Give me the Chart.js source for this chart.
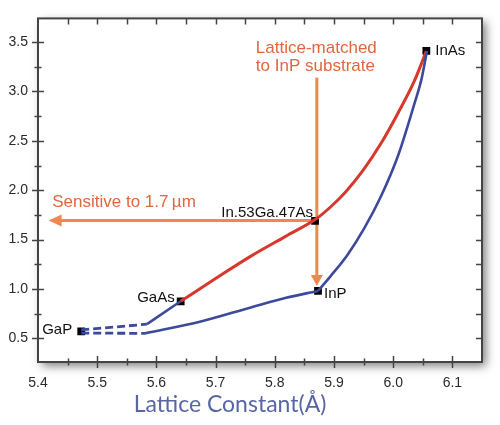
<!DOCTYPE html>
<html>
<head>
<meta charset="utf-8">
<script src="https://cdn.jsdelivr.net/npm/chart.js@4.4.1/dist/chart.umd.min.js"></script>
<style>
  html, body { margin: 0; padding: 0; background: #fff; }
</style>
</head>
<body>
<canvas id="canvas" width="500" height="425"></canvas>
<script>
var xTicks = [5.4, 5.5, 5.6, 5.7, 5.8, 5.9, 6.0, 6.1];
var yTicks = [0.5, 1.0, 1.5, 2.0, 2.5, 3.0, 3.5];

var names = ['GaP', 'GaAs', 'InP', 'InAs', 'In.53Ga.47As'];
var nameX = [5.473, 5.641, 5.873, 6.056, 5.868];
var nameY = [0.57, 0.875, 0.98, 3.41, 1.69];

// red: GaAs -> In.53Ga.47As -> InAs
var redX = [5.641, 5.7, 5.759, 5.819, 5.87, 5.895, 5.92, 5.949, 5.98, 6.008, 6.036, 6.056];
var redY = [0.875, 1.105, 1.33, 1.535, 1.71, 1.835, 1.985, 2.2, 2.48, 2.78, 3.11, 3.41];

// blue pieces
var blueAX = [5.584, 5.641];
var blueAY = [0.643, 0.875];
var blueBX = [5.581, 5.675, 5.761, 5.819, 5.873];
var blueBY = [0.55, 0.67, 0.815, 0.91, 0.98];
var blueCX = [5.873, 5.895, 5.923, 5.951, 5.98, 6.008, 6.036, 6.048, 6.057];
var blueCY = [0.98, 1.135, 1.347, 1.613, 1.947, 2.347, 2.88, 3.13, 3.41];

// dashed stubs to GaP
var dashAX = [5.473, 5.584];
var dashAY = [0.585, 0.643];
var dashBX = [5.473, 5.581];
var dashBY = [0.553, 0.55];

// arrows
var arrowHX = [5.868, 5.418];
var arrowHY = [1.693, 1.693];
var arrowVX = [5.871, 5.871];
var arrowVY = [3.14, 1.03];

var RED = '#d8372b';
var BLUE = '#3d4a9b';
var ORANGE = '#ee8752';
var ORANGE_TXT = '#e0673d';

function pts(xs, ys) {
  return xs.map(function(x, i) { return {x: x, y: ys[i]}; });
}

function lineSet(xs, ys, color, curved, dash, w) {
  return {
    data: pts(xs, ys),
    showLine: true,
    borderColor: color,
    borderWidth: w || 2.6,
    borderDash: dash || [],
    pointRadius: 0,
    fill: false,
    cubicInterpolationMode: curved ? 'monotone' : 'default',
    tension: 0
  };
}

function head(ctx, tx, ty, dx, dy, len, half) {
  var px = -dy, py = dx;
  ctx.beginPath();
  ctx.moveTo(tx, ty);
  ctx.lineTo(tx - dx * len + px * half, ty - dy * len + py * half);
  ctx.lineTo(tx - dx * len - px * half, ty - dy * len - py * half);
  ctx.closePath();
  ctx.fill();
}

var deco = {
  id: 'deco',
  beforeDraw: function(chart) {
    var a = chart.chartArea, ctx = chart.ctx;
    ctx.save();
    ctx.shadowColor = 'rgba(0,0,0,0.5)';
    ctx.shadowBlur = 9;
    ctx.shadowOffsetX = 4;
    ctx.shadowOffsetY = 4;
    ctx.fillStyle = '#fff';
    ctx.fillRect(a.left, a.top, a.right - a.left, a.bottom - a.top);
    ctx.restore();
  },
  beforeDatasetsDraw: function(chart) {
    var a = chart.chartArea, ctx = chart.ctx;
    var xs = chart.scales.x, ys = chart.scales.y;
    ctx.save();
    ctx.strokeStyle = '#444';
    ctx.lineWidth = 1.5;
    ctx.beginPath();
    var i, v, p, big;
    for (i = 1; i < 15; i++) {
      v = 5.4 + i * 0.05;
      p = Math.round(xs.getPixelForValue(v)) + 0.5;
      big = i % 2 === 0;
      ctx.moveTo(p, a.top); ctx.lineTo(p, a.top + 6);
      ctx.moveTo(p, a.bottom - (big ? 6 : 3.5)); ctx.lineTo(p, a.bottom + (big ? 6 : 3.5));
    }
    for (i = 0; i <= 12; i++) {
      v = 0.5 + i * 0.25;
      p = Math.round(ys.getPixelForValue(v)) + 0.5;
      big = i % 2 === 0;
      ctx.moveTo(a.right, p); ctx.lineTo(a.right - 6, p);
      ctx.moveTo(a.left - (big ? 6 : 3.5), p); ctx.lineTo(a.left + (big ? 6 : 3.5), p);
    }
    ctx.stroke();
    ctx.lineWidth = 2;
    ctx.strokeRect(a.left, a.top, a.right - a.left, a.bottom - a.top);

    // orange arrows
    ctx.strokeStyle = ORANGE;
    ctx.fillStyle = ORANGE;
    ctx.lineWidth = 3;
    var hx0 = xs.getPixelForValue(arrowHX[0]), hx1 = xs.getPixelForValue(arrowHX[1]);
    var hy = ys.getPixelForValue(arrowHY[0]);
    ctx.beginPath(); ctx.moveTo(hx0, hy); ctx.lineTo(hx1 + 10, hy); ctx.stroke();
    head(ctx, hx1, hy, -1, 0, 13, 6);
    var vx = xs.getPixelForValue(arrowVX[0]);
    var vy0 = ys.getPixelForValue(arrowVY[0]), vy1 = ys.getPixelForValue(arrowVY[1]);
    ctx.beginPath(); ctx.moveTo(vx, vy0); ctx.lineTo(vx, vy1 - 8); ctx.stroke();
    head(ctx, vx, vy1, 0, 1, 11, 6);
    ctx.restore();
  },
  afterDatasetsDraw: function(chart) {
    var ctx = chart.ctx, xs = chart.scales.x, ys = chart.scales.y;
    // label offsets: [dx, dy, align]
    var offs = [[-9, -2, 'right'], [-6, -3, 'right'], [6, 3, 'left'], [9, 0, 'left'], [-2, -8, 'right']];
    ctx.save();
    ctx.textBaseline = 'middle';
    ctx.fillStyle = '#111';
    ctx.font = '15px "Liberation Sans", Arial, sans-serif';
    names.forEach(function(n, i) {
      ctx.textAlign = offs[i][2];
      ctx.fillText(n, xs.getPixelForValue(nameX[i]) + offs[i][0], ys.getPixelForValue(nameY[i]) + offs[i][1]);
    });
    ctx.fillStyle = ORANGE_TXT;
    ctx.font = '17px "Liberation Sans", Arial, sans-serif';
    ctx.textAlign = 'left';
    ctx.fillText('Sensitive to 1.7\u2009\u00b5m', xs.getPixelForValue(5.424), ys.getPixelForValue(1.88));
    ctx.fillText('Lattice-matched', xs.getPixelForValue(5.768), ys.getPixelForValue(3.44));
    ctx.fillText('to InP substrate', xs.getPixelForValue(5.768), ys.getPixelForValue(3.25));
    // axis title
    ctx.fillStyle = '#5866a6';
    ctx.font = '23px Lato, "Open Sans", sans-serif';
    ctx.textAlign = 'center';
    ctx.fillText('Lattice Constant(\u00c5)', 230, 405);
    ctx.restore();
  }
};

var ctx = document.getElementById('canvas').getContext('2d');
var chart = new Chart(ctx, {
  type: 'scatter',
  data: {
    datasets: [
      lineSet(dashAX, dashAY, BLUE, false, [8, 4], 2.8),
      lineSet(dashBX, dashBY, BLUE, false, [8, 4], 2.8),
      lineSet(blueAX, blueAY, BLUE, false),
      lineSet(blueBX, blueBY, BLUE, true),
      lineSet(blueCX, blueCY, BLUE, true),
      lineSet(redX, redY, RED, true, null, 3),
      {
        data: pts(nameX, nameY),
        pointStyle: 'rect',
        pointRadius: 5.5,
        pointBackgroundColor: '#000',
        pointBorderColor: '#000',
        pointBorderWidth: 0,
        showLine: false
      }
    ]
  },
  options: {
    responsive: false,
    animation: false,
    layout: { padding: { top: 13, right: 18, left: 0, bottom: 0 } },
    plugins: { legend: { display: false }, tooltip: { enabled: false } },
    scales: {
      x: {
        type: 'linear', min: 5.4, max: 6.15,
        grid: { display: false, drawTicks: false },
        border: { display: false },
        afterBuildTicks: function(s) { s.ticks = xTicks.map(function(v) { return {value: v}; }); },
        afterFit: function(s) { s.height = 63; },
        ticks: {
          padding: 13, color: '#2a2a2a', maxRotation: 0, autoSkip: false,
          font: { family: 'Liberation Sans', size: 14 },
          callback: function(v) { return Number(v).toFixed(1); }
        }
      },
      y: {
        type: 'linear', min: 0.26, max: 3.74,
        grid: { display: false, drawTicks: false },
        border: { display: false },
        afterBuildTicks: function(s) { s.ticks = yTicks.map(function(v) { return {value: v}; }); },
        afterFit: function(s) { s.width = 38; },
        ticks: {
          padding: 10, color: '#2a2a2a', autoSkip: false,
          font: { family: 'Liberation Sans', size: 14 },
          callback: function(v) { return Number(v).toFixed(1); }
        }
      }
    }
  },
  plugins: [deco]
});
</script>
</body>
</html>
